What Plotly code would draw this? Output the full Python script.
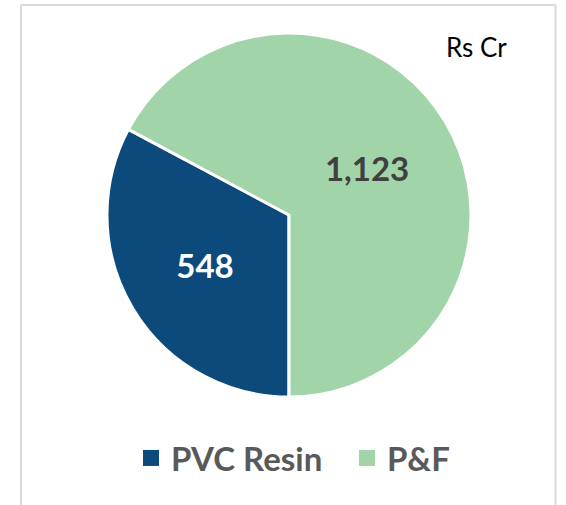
import plotly.graph_objects as go

categories = ["PVC Resin", "P&F"]
values = [548, 1123]
colors = ["#0B4A7A", "#A1D4A8"]
label_colors = ["#FFFFFF", "#404040"]
unit_label = "Rs Cr"

W, H = 566, 505
cx, cy, r = 289, 215, 182
legend_x_px = [131, 347]

fig = go.Figure()
fig.add_trace(go.Pie(
    labels=categories,
    values=values,
    sort=False,
    direction="clockwise",
    rotation=180,
    marker=dict(colors=colors, line=dict(color="white", width=3)),
    texttemplate="<b>%{value:,}</b>",
    textposition="inside",
    insidetextorientation="horizontal",
    textfont=dict(family="Lato", size=33, color=label_colors),
    showlegend=False,
    hoverinfo="label+value",
    domain=dict(x=[(cx - r) / W, (cx + r) / W], y=[(H - cy - r) / H, (H - cy + r) / H]),
))

legend_names = ["legend", "legend2"]
for name, col, lg in zip(categories, colors, legend_names):
    fig.add_trace(go.Scatter(
        x=[None], y=[None], mode="markers", name=name,
        marker=dict(symbol="square", size=17, color=col),
        showlegend=True, legend=lg,
    ))

fig.add_annotation(
    text=unit_label, x=476 / W, y=(H - 47) / H, xref="paper", yref="paper",
    showarrow=False, font=dict(family="Lato", size=26, color="#000000"),
    xanchor="center", yanchor="middle",
)

border = dict(color="#D9D9D9", width=2)
bx0, bx1, by_top = 21 / W, 555.5 / W, (H - 5) / H
fig.add_shape(type="line", xref="paper", yref="paper", x0=bx0, x1=bx1, y0=by_top, y1=by_top, line=border)
fig.add_shape(type="line", xref="paper", yref="paper", x0=bx0, x1=bx0, y0=-0.05, y1=by_top, line=border)
fig.add_shape(type="line", xref="paper", yref="paper", x0=bx1, x1=bx1, y0=-0.05, y1=by_top, line=border)

legend_style = dict(
    orientation="h", xanchor="left", y=(H - 458) / H, yanchor="middle",
    font=dict(family="Lato", size=33, color="#595959", weight="bold"),
    itemsizing="trace", bgcolor="rgba(0,0,0,0)",
)

fig.update_layout(
    width=W, height=H,
    margin=dict(l=0, r=0, t=0, b=0),
    paper_bgcolor="white", plot_bgcolor="white",
    xaxis=dict(visible=False), yaxis=dict(visible=False),
    legend=dict(x=legend_x_px[0] / W, **legend_style),
    legend2=dict(x=legend_x_px[1] / W, **legend_style),
)

fig.write_html("out.html", config={"displayModeBar": False},
               post_script="document.body.style.margin='0';")
